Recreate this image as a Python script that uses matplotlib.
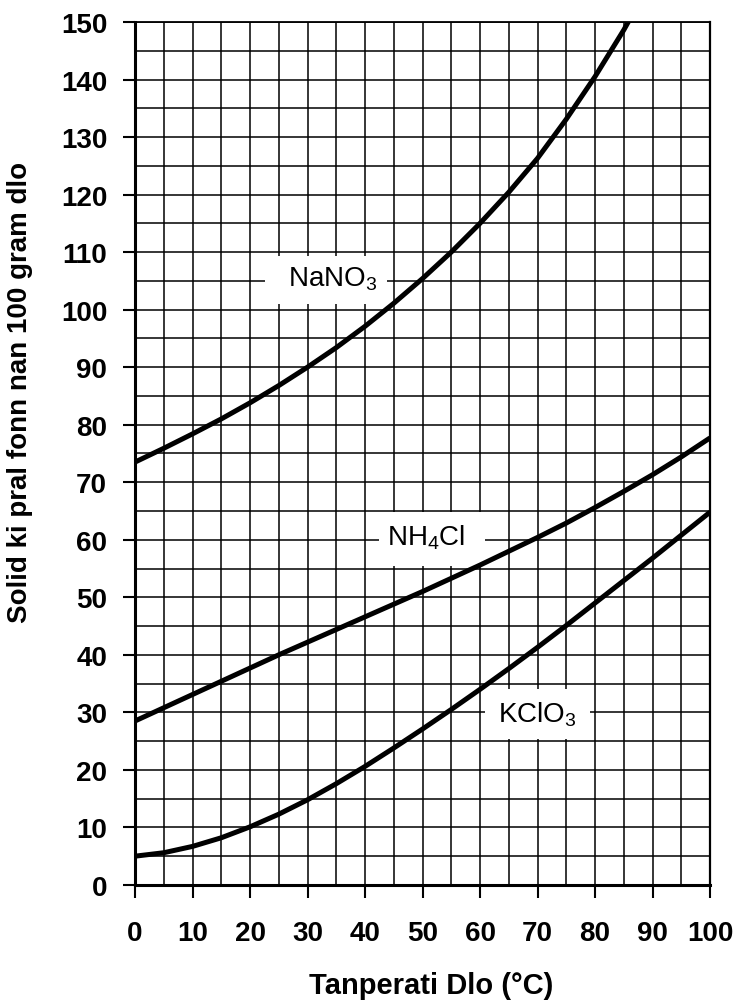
import matplotlib
matplotlib.use("Agg")
import matplotlib.pyplot as plt
from matplotlib.ticker import MultipleLocator
from matplotlib.patches import Rectangle

plt.rcParams['font.family'] = ['Liberation Sans', 'DejaVu Sans']
plt.rcParams['mathtext.fontset'] = 'custom'
plt.rcParams['mathtext.rm'] = 'Liberation Sans'
plt.rcParams['mathtext.it'] = 'Liberation Sans'
plt.rcParams['mathtext.bf'] = 'Liberation Sans:bold'

# Solubility curves (g solute / 100 g water)
temp_nano3 = [0, 5, 10, 15, 20, 25, 30, 35, 40, 45, 50, 55, 60, 65, 70, 75, 80, 85, 86]
sol_nano3 = [73.5, 75.9, 78.4, 81.0, 83.8, 86.8, 90.0, 93.4, 97.1, 101.1, 105.4, 110.0,
             115.0, 120.4, 126.3, 133.1, 140.5, 148.6, 150.4]

temp_nh4cl = [0, 5, 10, 15, 20, 25, 30, 35, 40, 45, 50, 55, 60, 65, 70, 75, 80, 85, 90, 95, 100]
sol_nh4cl = [28.5, 30.8, 33.1, 35.4, 37.7, 40.0, 42.2, 44.4, 46.6, 48.8, 51.0, 53.3,
             55.6, 58.0, 60.4, 62.9, 65.6, 68.4, 71.3, 74.4, 77.7]

temp_kclo3 = [0, 5, 10, 15, 20, 25, 30, 35, 40, 45, 50, 55, 60, 65, 70, 75, 80, 85, 90, 95, 100]
sol_kclo3 = [5.0, 5.6, 6.7, 8.2, 10.1, 12.3, 14.8, 17.6, 20.6, 23.8, 27.1, 30.5,
             34.0, 37.6, 41.3, 45.1, 49.0, 52.9, 56.8, 60.8, 64.8]

x_ticks = list(range(0, 101, 10))
y_ticks = list(range(0, 151, 10))

fig = plt.figure(figsize=(7.35, 10.03), dpi=100)
ax = fig.add_axes([0.1837, 0.1167, 0.7823, 0.8604])

ax.set_xlim(0, 100)
ax.set_ylim(0, 150)
ax.set_xticks(x_ticks)
ax.set_yticks(y_ticks)
ax.xaxis.set_minor_locator(MultipleLocator(5))
ax.yaxis.set_minor_locator(MultipleLocator(5))
ax.grid(which='both', color='black', linewidth=1.1)
ax.set_axisbelow(True)

ax.tick_params(axis='x', which='major', length=9, width=1.5, pad=16, labelsize=20)
ax.tick_params(axis='y', which='major', length=9, width=1.5, pad=11, labelsize=20)
ax.tick_params(which='minor', length=0)
for lab in ax.get_xticklabels() + ax.get_yticklabels():
    lab.set_fontweight('bold')

ax.spines['left'].set_linewidth(2.2)
ax.spines['bottom'].set_linewidth(2.2)
ax.spines['right'].set_linewidth(1.6)
ax.spines['top'].set_linewidth(1.3)

for t, s in [(temp_nano3, sol_nano3), (temp_nh4cl, sol_nh4cl), (temp_kclo3, sol_kclo3)]:
    ax.plot(t, s, color='black', lw=3.6, solid_capstyle='butt',
            solid_joinstyle='round', zorder=3)

# curve labels on white patches
labels = [
    ("NaNO$_3$", 34.3, 105.5, (22.6, 101.0, 21.2, 8.3)),
    ("NH$_4$Cl", 50.6, 60.5, (42.5, 55.5, 18.4, 9.4)),
    ("KClO$_3$", 70.0, 29.7, (60.9, 25.4, 18.2, 8.7)),
]
for txt, tx, ty, (bx, by, bw, bh) in labels:
    ax.add_patch(Rectangle((bx, by), bw, bh, facecolor='white', edgecolor='none', zorder=2))
    ax.text(tx, ty, txt, fontsize=20, ha='center', va='center', zorder=4)

ax.set_ylabel("Solid ki pral fonn nan 100 gram dlo", fontsize=20, fontweight='bold')
ax.yaxis.set_label_coords(-0.177, 0.572)
ax.set_xlabel("Tanperati Dlo (°C)", fontsize=21, fontweight='bold')
ax.xaxis.set_label_coords(0.515, -0.1)

fig.savefig("out.png", dpi=100)
